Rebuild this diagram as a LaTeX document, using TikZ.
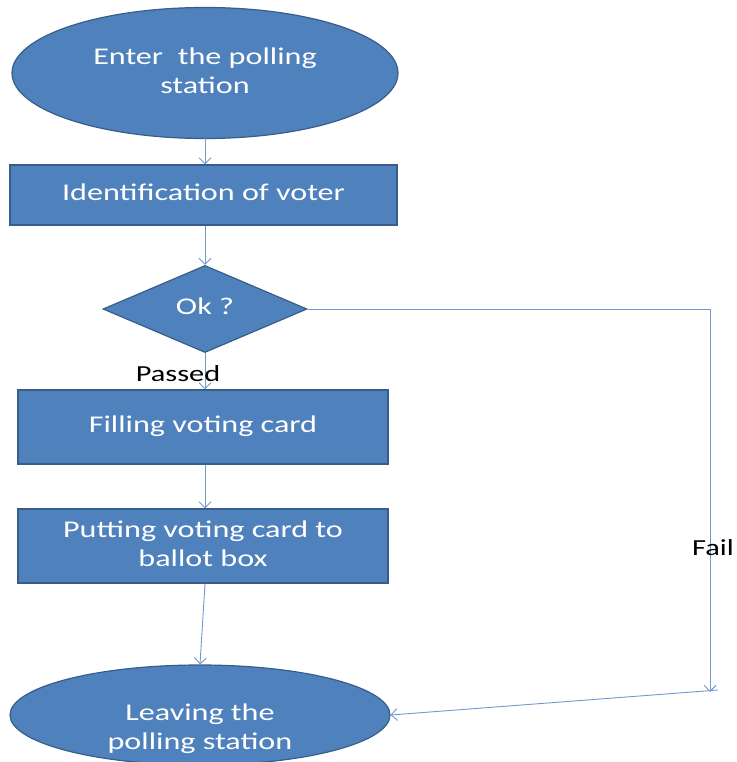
\documentclass[tikz,border=0pt]{standalone}
\usepackage{fontspec}
\setmainfont{Carlito}
\usetikzlibrary{shapes.geometric,arrows.meta}
\definecolor{boxfill}{HTML}{4F81BD}
\definecolor{boxline}{HTML}{385D8A}
\definecolor{conn}{HTML}{7298CC}
\newcommand{\wtxt}[1]{\scalebox{1.34}[1]{\begin{tabular}{@{}c@{}}#1\end{tabular}}}
\tikzset{
  shapebase/.style={fill=boxfill,draw=boxline,line width=1.2pt,text=white,inner sep=0pt,
    font=\fontsize{24}{29}\selectfont},
  oval/.style={shapebase,ellipse},
  rectbox/.style={shapebase,rectangle},
  decide/.style={shapebase,diamond},
  conline/.style={draw=conn,line width=0.9pt},
  conarrow/.style={conline,-{Straight Barb[length=6pt,width=12pt]}},
  lbl/.style={font=\fontsize{23}{27}\selectfont,text=black,inner sep=0pt}
}
\begin{document}
\begin{tikzpicture}[x=1pt,y=-1pt]
\useasboundingbox (0,0) rectangle (736,762);
\node[oval,minimum width=386pt,minimum height=131pt] (enter) at (205,73) {\wtxt{Enter\ \ the polling\\station}};
\node[rectbox,minimum width=387pt,minimum height=60pt] (ident) at (203.5,195) {\wtxt{Identification of voter}};
\node[decide,minimum width=204pt,minimum height=82pt] (ok) at (205,309) {\wtxt{Ok ?}};
\node[rectbox,minimum width=370pt,minimum height=74pt] (fill) at (203,427) {\wtxt{Filling voting card}};
\node[rectbox,minimum width=370pt,minimum height=74pt] (put) at (203,546) {\wtxt{Putting voting card to\\ballot box}};
\node[oval,minimum width=380pt,minimum height=100pt] (leave) at (200,715) {};
\node[text=white,font=\fontsize{24}{29}\selectfont,inner sep=0pt] (leavetxt) at (200,729) {\wtxt{Leaving the\\polling station}};
\coordinate (corner) at (710,309);
\coordinate (failend) at (710,692);
\coordinate (retstart) at (718,690);
\draw[conarrow] (205,138) -- (ident.north -| 205,0);
\draw[conarrow] (ident.south -| 205,0) -- (ok.north);
\draw[conarrow] (ok.south) -- (fill.north -| 205,0);
\draw[conarrow] (fill.south -| 205,0) -- (put.north -| 205,0);
\draw[conarrow] (put.south -| 205,0) -- (leave.north);
\draw[conarrow] (ok.east) -- (corner) -- (failend);
\draw[conarrow] (retstart) -- (leave.east);
\node[lbl] (passed) at (178,374) {\scalebox{1.32}[1]{Passed}};
\node[lbl] (fail) at (713,548) {\scalebox{1.32}[1]{Fail}};
\end{tikzpicture}
\end{document}
